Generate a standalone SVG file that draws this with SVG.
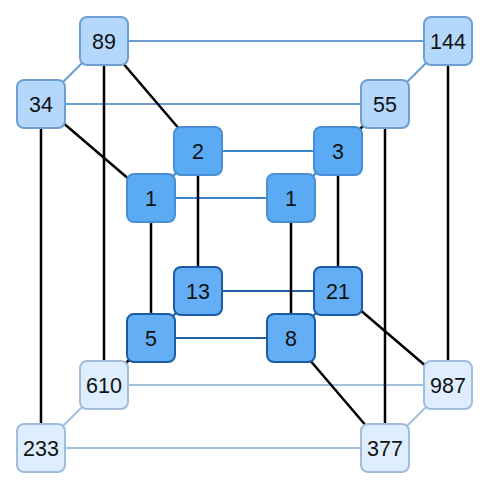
<svg xmlns="http://www.w3.org/2000/svg" width="488" height="488" viewBox="0 0 488 488">
<style>
.bk{stroke:#000;stroke-width:2.5;fill:none}
.e1{stroke:#6b9fd1;stroke-width:2.2;fill:none}
.e2{stroke:#3d84cf;stroke-width:2.2;fill:none}
.e3{stroke:#1f5fa6;stroke-width:2.2;fill:none}
.e4{stroke:#a3c0dc;stroke-width:2.2;fill:none}
.n rect{width:48px;height:48px}
.t1 rect{fill:#b3d8fc;stroke:#6d9fd0;stroke-width:2}
.t2 rect{fill:#5aabf4;stroke:#4a8fd6;stroke-width:2}
.t3 rect{fill:#63aef4;stroke:#1c5ca6;stroke-width:2}
.t4 rect{fill:#deeefe;stroke:#a0bddb;stroke-width:2}
text{font-family:"Liberation Sans",Arial,sans-serif;font-size:21.5px;fill:#111;text-anchor:middle;dominant-baseline:central}
</style>
<rect width="488" height="488" fill="#fff"/>
<g id="connectors">
<line class="e1" x1="104" y1="41" x2="448" y2="41"/>
<line class="e1" x1="41" y1="104" x2="385" y2="104"/>
<line class="e1" x1="104" y1="41" x2="41" y2="104"/>
<line class="e1" x1="448" y1="41" x2="385" y2="104"/>
<line class="e2" x1="198" y1="151" x2="338" y2="151"/>
<line class="e2" x1="151" y1="198" x2="291" y2="198"/>
<line class="e2" x1="198" y1="151" x2="151" y2="198"/>
<line class="e2" x1="338" y1="151" x2="291" y2="198"/>
<line class="e3" x1="198" y1="291" x2="338" y2="291"/>
<line class="e3" x1="151" y1="338" x2="291" y2="338"/>
<line class="e3" x1="198" y1="291" x2="151" y2="338"/>
<line class="e3" x1="338" y1="291" x2="291" y2="338"/>
<line class="e4" x1="104" y1="385" x2="448" y2="385"/>
<line class="e4" x1="41" y1="448" x2="385" y2="448"/>
<line class="e4" x1="104" y1="385" x2="41" y2="448"/>
<line class="e4" x1="448" y1="385" x2="385" y2="448"/>
<line class="bk" x1="104" y1="41" x2="104" y2="385"/>
<line class="bk" x1="41" y1="104" x2="41" y2="448"/>
<line class="bk" x1="448" y1="41" x2="448" y2="385"/>
<line class="bk" x1="385" y1="104" x2="385" y2="448"/>
<line class="bk" x1="198" y1="151" x2="198" y2="291"/>
<line class="bk" x1="151" y1="198" x2="151" y2="338"/>
<line class="bk" x1="338" y1="151" x2="338" y2="291"/>
<line class="bk" x1="291" y1="198" x2="291" y2="338"/>
<line class="bk" x1="104" y1="41" x2="198" y2="151"/>
<line class="bk" x1="41" y1="104" x2="151" y2="198"/>
<line class="bk" x1="385" y1="104" x2="338" y2="151"/>
<line class="bk" x1="104" y1="385" x2="151" y2="338"/>
<line class="bk" x1="338" y1="291" x2="448" y2="385"/>
<line class="bk" x1="291" y1="338" x2="385" y2="448"/>
</g>
<g id="n89" class="n t1"><rect x="80" y="17" width="48" height="48" rx="7"/><text x="104" y="42">89</text></g>
<g id="n144" class="n t1"><rect x="424" y="17" width="48" height="48" rx="7"/><text x="448" y="42">144</text></g>
<g id="n34" class="n t1"><rect x="17" y="80" width="48" height="48" rx="7"/><text x="41" y="105">34</text></g>
<g id="n55" class="n t1"><rect x="361" y="80" width="48" height="48" rx="7"/><text x="385" y="105">55</text></g>
<g id="n2" class="n t2"><rect x="174" y="127" width="48" height="48" rx="7"/><text x="198" y="152">2</text></g>
<g id="n3" class="n t2"><rect x="314" y="127" width="48" height="48" rx="7"/><text x="338" y="152">3</text></g>
<g id="n1a" class="n t2"><rect x="127" y="174" width="48" height="48" rx="7"/><text x="151" y="199">1</text></g>
<g id="n1b" class="n t2"><rect x="267" y="174" width="48" height="48" rx="7"/><text x="291" y="199">1</text></g>
<g id="n13" class="n t3"><rect x="174" y="267" width="48" height="48" rx="7"/><text x="198" y="292">13</text></g>
<g id="n21" class="n t3"><rect x="314" y="267" width="48" height="48" rx="7"/><text x="338" y="292">21</text></g>
<g id="n5" class="n t3"><rect x="127" y="314" width="48" height="48" rx="7"/><text x="151" y="339">5</text></g>
<g id="n8" class="n t3"><rect x="267" y="314" width="48" height="48" rx="7"/><text x="291" y="339">8</text></g>
<g id="n610" class="n t4"><rect x="80" y="361" width="48" height="48" rx="7"/><text x="104" y="386">610</text></g>
<g id="n987" class="n t4"><rect x="424" y="361" width="48" height="48" rx="7"/><text x="448" y="386">987</text></g>
<g id="n233" class="n t4"><rect x="17" y="424" width="48" height="48" rx="7"/><text x="41" y="449">233</text></g>
<g id="n377" class="n t4"><rect x="361" y="424" width="48" height="48" rx="7"/><text x="385" y="449">377</text></g>
</svg>
